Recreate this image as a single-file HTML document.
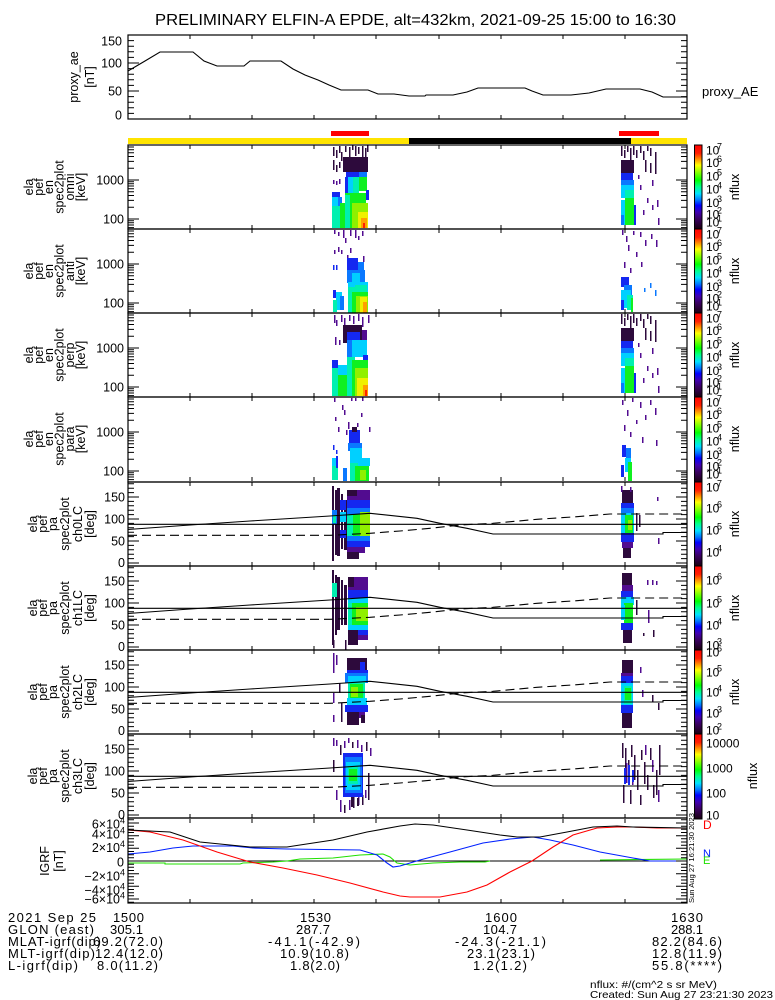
<!DOCTYPE html>
<html><head><meta charset="utf-8"><style>
html,body{margin:0;padding:0;background:#fff}
svg{display:block;font-family:"Liberation Sans",sans-serif}
.K{fill:#2d0a3c}.P{fill:#520c90}.B{fill:#1428f0}.L{fill:#0a78ff}.C{fill:#00d0ff}.T{fill:#00f0b0}.G{fill:#10f020}.H{fill:#90f000}.Y{fill:#f0f000}.O{fill:#ffa000}.R{fill:#ff2000}
.t{font-size:12.5px;fill:#000}
.cb{font-size:12px;fill:#000}
.sp{font-size:9px;fill:#000}
.bt{font-size:13px;fill:#000}
</style></head><body>
<svg width="775" height="1000" viewBox="0 0 775 1000" xmlns="http://www.w3.org/2000/svg">
<defs>
<linearGradient id="cb" x1="0" y1="0" x2="0" y2="1">
<stop offset="0" stop-color="#ff0000"/><stop offset="0.1" stop-color="#ff2000"/><stop offset="0.17" stop-color="#ff9000"/><stop offset="0.24" stop-color="#ffff00"/><stop offset="0.32" stop-color="#90ff00"/><stop offset="0.42" stop-color="#00ff00"/><stop offset="0.5" stop-color="#00ff90"/><stop offset="0.58" stop-color="#00e0ff"/><stop offset="0.66" stop-color="#0070ff"/><stop offset="0.72" stop-color="#0000ff"/><stop offset="0.8" stop-color="#4000b0"/><stop offset="0.88" stop-color="#3a0060"/><stop offset="1" stop-color="#1a0010"/>
</linearGradient>
<path id="xt" fill="none" stroke="#000" d="M190 0v4M252 0v4M314 0v4M376 0v4M439 0v4M501 0v4M563 0v4M625 0v4M190 84v-4M252 84v-4M314 84v-4M376 84v-4M439 84v-4M501 84v-4M563 84v-4M625 84v-4"/>
<path id="etl" fill="none" stroke="#000" d="M128 82.6h6M128 80h6M128 77.8h6M128 75.8h6M128 74h11M128 62.3h6M128 55.4h6M128 50.5h6M128 46.7h6M128 43.7h6M128 41h6M128 38.8h6M128 36.8h6M128 35h11M128 23.3h6M128 16.4h6M128 11.5h6M128 7.7h6M128 4.7h6M128 2h6"/>
<g id="et"><use href="#etl"/><use href="#etl" transform="translate(815,0) scale(-1,1)"/><use href="#xt"/></g>
<path id="ptl" fill="none" stroke="#000" d="M128 81h11M128 76.6h6M128 72.2h6M128 67.8h6M128 63.4h6M128 59h11M128 54.6h6M128 50.2h6M128 45.8h6M128 41.4h6M128 37h11M128 32.6h6M128 28.2h6M128 23.8h6M128 19.4h6M128 15h11M128 10.6h6M128 6.2h6M128 1.8h6"/>
<g id="pt"><use href="#ptl"/><use href="#ptl" transform="translate(815,0) scale(-1,1)"/><use href="#xt"/></g>
<path id="atl" fill="none" stroke="#000" d="M128 84h11M128 78.4h6M128 72.8h6M128 67.2h6M128 61.6h6M128 56h11M128 50.4h6M128 44.8h6M128 39.2h6M128 33.6h6M128 28h11M128 22.4h6M128 16.8h6M128 11.2h6M128 5.6h6M128 0h11"/>
<path id="btl" fill="none" stroke="#000" d="M128 819.8h6M128 823h11M128 826.2h6M128 829.3h6M128 832.5h6M128 835.7h11M128 838.8h6M128 842h6M128 845.2h6M128 848.3h11M128 851.5h6M128 854.7h6M128 857.8h6M128 861h11M128 864.2h6M128 867.3h6M128 870.5h6M128 873.7h11M128 876.8h6M128 880h6M128 883.2h6M128 886.3h11M128 889.5h6M128 892.7h6M128 895.8h6M128 899h11M128 902.2h6"/>
<g id="pl" fill="none" stroke="#000" stroke-width="1.1">
<line x1="128" y1="42.3" x2="687" y2="42.3"/>
<polyline points="128,47.5 183,43.5 250,39 330,34 370,31.3 417,36.3 440,41.3 467,46.3 493,52 663,52 663,50.5 687,50.5"/>
<polyline stroke-dasharray="9,5" points="128,53.3 330,53.3 370,51.3 400,49 430,46.3 460,43 493,41.3 537,37.3 577,34.7 610,32 687,32"/>
</g>
<g id="b1b">
<rect class="K" x="621" y="146" width="1.5" height="10"/><rect class="K" x="624" y="150" width="1.5" height="8"/><rect class="K" x="627" y="146" width="1.5" height="6"/><rect class="K" x="630" y="148" width="1.5" height="12"/><rect class="K" x="633" y="146" width="1.5" height="9"/><rect class="K" x="636" y="150" width="1.5" height="8"/><rect class="K" x="640" y="146" width="1.5" height="7"/><rect class="K" x="643" y="151" width="1.5" height="9"/><rect class="K" x="647" y="146" width="1.5" height="5"/><rect class="K" x="650" y="148" width="1.5" height="8"/><rect class="K" x="655" y="152" width="1.5" height="10"/><rect class="K" x="645" y="160" width="1.5" height="12"/><rect class="K" x="650" y="163" width="1.5" height="10"/><rect class="K" x="655" y="160" width="1.5" height="14"/>
<rect class="K" x="621" y="160" width="13" height="13"/>
<rect class="B" x="621" y="173" width="12" height="10"/><rect class="L" x="621" y="180" width="13" height="5"/>
<rect class="C" x="621" y="185" width="13" height="13"/><rect class="T" x="625" y="190" width="9" height="10"/>
<rect class="G" x="625" y="198" width="9" height="27"/><rect class="C" x="621" y="200" width="4" height="25"/><rect class="L" x="621" y="215" width="3" height="10"/>
<rect class="B" x="634" y="205" width="2" height="20"/>
<rect class="P" x="640" y="185" width="1.5" height="5"/><rect class="P" x="647" y="198" width="1.5" height="5"/><rect class="P" x="652" y="205" width="1.5" height="5"/><rect class="P" x="657" y="200" width="1.5" height="7"/><rect class="P" x="658" y="218" width="1.5" height="7"/><rect class="P" x="643" y="210" width="1.5" height="5"/><rect class="P" x="638" y="175" width="1.5" height="4"/><rect class="P" x="652" y="180" width="1.5" height="6"/>
</g>
</defs>
<rect width="775" height="1000" fill="#fff"/>

<!-- Title -->
<text x="155" y="25" font-size="16" textLength="521" lengthAdjust="spacingAndGlyphs">PRELIMINARY ELFIN-A EPDE, alt=432km, 2021-09-25 15:00 to 16:30</text>

<!-- proxy AE panel -->
<polyline fill="none" stroke="#000" stroke-width="1.1" points="128,71 145,61 160,52 193,52 204,61 217,66 244,66 250,61 281,61 293,69 305,75 318,80 329,85 341,90 368,90 378,94 394,94 409,96 425,96 426,95 453,95 467,92 478,88 525,88 532,91 543,95 571,95 589,93 606,89 640,89 652,92 663,97 687,97"/>
<use href="#atl" y="35"/><use href="#atl" transform="translate(815,35) scale(-1,1)"/><use href="#xt" y="35"/>
<rect x="128" y="35" width="559" height="84" fill="none" stroke="#000" stroke-width="1.2"/>
<g class="t" text-anchor="end"><text x="122" y="45.5">150</text><text x="122" y="67.5">100</text><text x="122" y="95.5">50</text><text x="122" y="119.5">0</text></g>
<g class="t" text-anchor="middle"><text transform="translate(78,77) rotate(-90)">proxy_ae</text><text transform="translate(94,77) rotate(-90)">[nT]</text></g>
<text x="702" y="96" font-size="13">proxy_AE</text>

<!-- bars -->
<rect x="331" y="131" width="38" height="5" fill="#ff0000"/>
<rect x="619" y="131" width="40" height="5" fill="#ff0000"/>
<rect x="128" y="138" width="559" height="6" fill="#ffe400"/>
<rect x="409" y="138" width="222" height="6" fill="#000"/>

<!-- Panel 1 omni -->
<g>
<rect class="K" x="333" y="147" width="1.5" height="9"/><rect class="K" x="336" y="150" width="1.5" height="8"/><rect class="K" x="339" y="146" width="1.5" height="7"/><rect class="K" x="341" y="152" width="1.5" height="9"/><rect class="K" x="345" y="146" width="1.5" height="6"/><rect class="K" x="349" y="147" width="1.5" height="10"/><rect class="K" x="352" y="145" width="1.5" height="5"/><rect class="K" x="355" y="146" width="1.5" height="10"/><rect class="K" x="358" y="147" width="1.5" height="7"/><rect class="K" x="362" y="146" width="1.5" height="12"/><rect class="K" x="365" y="148" width="1.5" height="10"/><rect class="K" x="367" y="145" width="1.5" height="7"/><rect class="K" x="333" y="160" width="1.5" height="10"/><rect class="K" x="336" y="165" width="1.5" height="7"/><rect class="K" x="339" y="162" width="1.5" height="6"/>
<rect class="K" x="343" y="157" width="25" height="15"/>
<rect class="P" x="333" y="180" width="1.5" height="4"/><rect class="P" x="336" y="181" width="1.5" height="4"/><rect class="P" x="339" y="179" width="1.5" height="5"/>
<rect class="B" x="346" y="172" width="13" height="6"/><rect class="L" x="359" y="172" width="8" height="6"/>
<rect class="B" x="345" y="177" width="3" height="16"/><rect class="C" x="348" y="177" width="5" height="16"/><rect class="T" x="353" y="177" width="6" height="16"/><rect class="G" x="359" y="177" width="8" height="14"/><rect class="B" x="366" y="190" width="3" height="10"/>
<rect class="B" x="332" y="192" width="8" height="5"/><rect class="C" x="332" y="197" width="6" height="9"/><rect class="L" x="338" y="197" width="4" height="9"/><rect class="T" x="332" y="206" width="8" height="22"/><rect class="G" x="340" y="203" width="5" height="25"/>
<rect class="G" x="345" y="193" width="21" height="35"/><rect class="T" x="345" y="195" width="5" height="33"/><rect class="H" x="352" y="203" width="16" height="25"/><rect class="Y" x="358" y="212" width="10" height="16"/><rect class="O" x="361" y="218" width="6" height="10"/><rect class="R" x="363" y="223" width="2" height="5"/>
<use href="#b1b"/>
</g>

<!-- Panel 2 anti -->
<g>
<rect class="P" x="334" y="230" width="1.5" height="4"/><rect class="P" x="338" y="232" width="1.5" height="4"/><rect class="P" x="343" y="230" width="1.5" height="8"/><rect class="P" x="350" y="230" width="1.5" height="6"/><rect class="P" x="355" y="230" width="1.5" height="8"/><rect class="P" x="358" y="236" width="1.5" height="4"/><rect class="P" x="362" y="231" width="1.5" height="5"/><rect class="P" x="345" y="238" width="1.5" height="5"/><rect class="P" x="338" y="247" width="1.5" height="5"/><rect class="P" x="341" y="250" width="1.5" height="4"/><rect class="P" x="334" y="250" width="1.5" height="4"/><rect class="P" x="350" y="248" width="1.5" height="5"/><rect class="P" x="347" y="255" width="1.5" height="5"/><rect class="P" x="363" y="256" width="1.5" height="6"/>
<rect class="B" x="347" y="258" width="11" height="12"/><rect class="L" x="358" y="262" width="6" height="8"/><rect class="B" x="333" y="265" width="1.5" height="5"/><rect class="B" x="336" y="265" width="1.5" height="5"/>
<rect class="L" x="347" y="270" width="18" height="13"/><rect class="C" x="352" y="273" width="8" height="10"/>
<rect class="C" x="348" y="282" width="20" height="10"/><rect class="T" x="355" y="285" width="12" height="8"/>
<rect class="B" x="333" y="290" width="3" height="8"/><rect class="C" x="336" y="292" width="6" height="18"/><rect class="T" x="333" y="300" width="4" height="12"/><rect class="L" x="340" y="296" width="4" height="14"/>
<rect class="T" x="348" y="287" width="8" height="26"/><rect class="G" x="352" y="292" width="16" height="21"/><rect class="H" x="356" y="296" width="12" height="17"/><rect class="Y" x="360" y="297" width="7" height="16"/><rect class="O" x="363" y="302" width="4" height="11"/>
<rect class="P" x="622" y="230" width="1.5" height="5"/><rect class="P" x="626" y="236" width="1.5" height="6"/><rect class="P" x="633" y="231" width="1.5" height="4"/><rect class="P" x="640" y="232" width="1.5" height="5"/><rect class="P" x="645" y="240" width="1.5" height="6"/><rect class="P" x="651" y="234" width="1.5" height="5"/><rect class="P" x="656" y="240" width="1.5" height="7"/><rect class="P" x="628" y="245" width="1.5" height="6"/><rect class="P" x="636" y="252" width="1.5" height="5"/><rect class="P" x="641" y="262" width="1.5" height="5"/><rect class="P" x="624" y="262" width="1.5" height="6"/><rect class="P" x="630" y="268" width="1.5" height="5"/>
<rect class="B" x="621" y="277" width="8" height="10"/><rect class="L" x="624" y="285" width="8" height="10"/><rect class="C" x="621" y="290" width="10" height="18"/><rect class="T" x="627" y="295" width="6" height="15"/><rect class="G" x="631" y="298" width="2" height="14"/><rect class="B" x="621" y="300" width="3" height="10"/>
<rect class="L" x="650" y="283" width="1.5" height="5"/><rect class="L" x="655" y="290" width="1.5" height="6"/><rect class="L" x="644" y="288" width="1.5" height="4"/>
</g>

<!-- Panel 3 perp -->
<g>
<rect class="P" x="334" y="315" width="1.5" height="8"/><rect class="P" x="336" y="320" width="1.5" height="6"/><rect class="P" x="341" y="315" width="1.5" height="7"/><rect class="P" x="344" y="318" width="1.5" height="10"/><rect class="P" x="349" y="315" width="1.5" height="6"/><rect class="P" x="353" y="316" width="1.5" height="8"/><rect class="P" x="358" y="314" width="1.5" height="7"/><rect class="P" x="362" y="317" width="1.5" height="10"/><rect class="P" x="368" y="315" width="1.5" height="8"/><rect class="P" x="339" y="340" width="1.5" height="5"/><rect class="P" x="335" y="337" width="1.5" height="8"/>
<rect class="K" x="343" y="325" width="19" height="18"/><rect class="P" x="362" y="330" width="5" height="12"/>
<rect class="B" x="347" y="332" width="13" height="8"/>
<rect class="L" x="347" y="340" width="5" height="17"/><rect class="C" x="352" y="340" width="15" height="17"/><rect class="B" x="363" y="355" width="5" height="10"/>
<rect class="B" x="332" y="360" width="6" height="8"/><rect class="C" x="338" y="365" width="9" height="10"/><rect class="T" x="332" y="368" width="6" height="28"/><rect class="G" x="338" y="375" width="9" height="21"/>
<rect class="T" x="347" y="357" width="8" height="39"/><rect class="G" x="352" y="360" width="16" height="36"/><rect class="H" x="355" y="368" width="13" height="28"/><rect class="Y" x="357" y="378" width="11" height="18"/><rect class="O" x="363" y="385" width="5" height="11"/><rect class="R" x="365" y="390" width="2" height="6"/>
<use href="#b1b" y="168"/>
</g>

<!-- Panel 4 para -->
<g>
<rect class="P" x="334" y="398" width="1.5" height="4"/><rect class="P" x="342" y="405" width="1.5" height="5"/><rect class="P" x="344" y="410" width="1.5" height="5"/><rect class="P" x="335" y="417" width="1.5" height="4"/><rect class="P" x="361" y="413" width="1.5" height="4"/><rect class="P" x="348" y="422" width="1.5" height="7"/><rect class="P" x="357" y="423" width="1.5" height="4"/><rect class="P" x="351" y="398" width="1.5" height="3"/><rect class="P" x="355" y="398" width="1.5" height="3"/><rect class="P" x="362" y="397" width="1.5" height="4"/><rect class="P" x="338" y="427" width="1.5" height="5"/><rect class="P" x="369" y="427" width="1.5" height="5"/><rect class="P" x="346" y="430" width="1.5" height="5"/>
<rect class="B" x="349" y="430" width="11" height="13"/><rect class="K" x="352" y="427" width="5" height="5"/>
<rect class="L" x="348" y="443" width="14" height="8"/><rect class="C" x="350" y="448" width="12" height="10"/>
<rect class="B" x="333" y="445" width="1.5" height="5"/><rect class="B" x="336" y="450" width="1.5" height="4"/>
<rect class="C" x="332" y="458" width="4" height="8"/><rect class="T" x="332" y="466" width="6" height="14"/><rect class="B" x="336" y="456" width="2" height="12"/>
<rect class="C" x="350" y="458" width="20" height="8"/><rect class="T" x="350" y="463" width="8" height="18"/><rect class="G" x="355" y="466" width="14" height="15"/><rect class="H" x="360" y="470" width="6" height="10"/><rect class="L" x="343" y="468" width="4" height="13"/>
<rect class="P" x="622" y="400" width="1.5" height="5"/><rect class="P" x="627" y="410" width="1.5" height="6"/><rect class="P" x="632" y="398" width="1.5" height="4"/><rect class="P" x="640" y="402" width="1.5" height="6"/><rect class="P" x="645" y="415" width="1.5" height="5"/><rect class="P" x="650" y="400" width="1.5" height="5"/><rect class="P" x="655" y="408" width="1.5" height="7"/><rect class="P" x="624" y="425" width="1.5" height="6"/><rect class="P" x="630" y="432" width="1.5" height="5"/><rect class="P" x="636" y="420" width="1.5" height="4"/><rect class="P" x="642" y="437" width="1.5" height="6"/><rect class="P" x="656" y="440" width="1.5" height="6"/>
<rect class="B" x="622" y="445" width="4" height="12"/><rect class="L" x="626" y="448" width="5" height="10"/><rect class="C" x="625" y="458" width="6" height="14"/><rect class="G" x="628" y="462" width="4" height="19"/><rect class="B" x="621" y="465" width="3" height="12"/>
</g>

<!-- Panel 5 ch0LC -->
<g>
<rect class="K" x="332" y="486" width="2" height="75"/><rect class="K" x="335" y="490" width="2" height="65"/><rect class="L" x="332" y="510" width="5" height="14"/><rect class="T" x="333" y="515" width="3" height="8"/>
<rect class="K" x="337" y="488" width="3" height="68"/><rect class="K" x="341" y="494" width="2" height="55"/><rect class="K" x="344" y="500" width="3" height="50"/><rect class="B" x="340" y="500" width="6" height="10"/><rect class="C" x="340" y="512" width="6" height="10"/><rect class="B" x="340" y="530" width="6" height="8"/>
<rect class="P" x="347" y="490" width="23" height="10"/><rect class="K" x="347" y="490" width="10" height="6"/>
<rect class="B" x="347" y="500" width="23" height="8"/><rect class="L" x="347" y="508" width="23" height="6"/>
<rect class="G" x="347" y="514" width="23" height="22"/><rect class="T" x="347" y="514" width="6" height="22"/><rect class="H" x="360" y="512" width="10" height="26"/>
<rect class="L" x="347" y="536" width="23" height="5"/><rect class="B" x="347" y="541" width="23" height="6"/><rect class="P" x="347" y="547" width="18" height="6"/><rect class="K" x="347" y="552" width="12" height="7"/>
<rect class="K" x="622" y="490" width="11" height="13"/><rect class="P" x="621" y="486" width="1.5" height="6"/><rect class="P" x="630" y="487" width="1.5" height="5"/>
<rect class="B" x="621" y="503" width="13" height="7"/><rect class="L" x="621" y="508" width="13" height="6"/>
<rect class="C" x="621" y="513" width="13" height="20"/><rect class="G" x="625" y="515" width="8" height="18"/><rect class="H" x="628" y="520" width="4" height="10"/>
<rect class="B" x="621" y="533" width="13" height="9"/><rect class="P" x="622" y="542" width="11" height="6"/><rect class="K" x="623" y="548" width="8" height="10"/>
<rect class="K" x="636" y="513" width="1.5" height="18"/><rect class="K" x="639" y="515" width="1.5" height="12"/><rect class="P" x="657" y="497" width="1.5" height="4"/><rect class="P" x="658" y="538" width="1.5" height="6"/>
</g>

<!-- Panel 6 ch1LC -->
<g>
<rect class="K" x="332" y="570" width="2" height="75"/><rect class="K" x="335" y="575" width="2" height="60"/><rect class="T" x="332" y="583" width="5" height="14"/>
<rect class="K" x="337" y="577" width="3" height="53"/><rect class="K" x="341" y="580" width="2" height="45"/><rect class="K" x="344" y="585" width="3" height="40"/>
<rect class="P" x="348" y="577" width="20" height="13"/><rect class="K" x="348" y="577" width="6" height="10"/>
<rect class="B" x="348" y="590" width="20" height="8"/><rect class="C" x="348" y="598" width="20" height="5"/>
<rect class="G" x="350" y="603" width="18" height="22"/><rect class="H" x="356" y="607" width="12" height="14"/><rect class="T" x="348" y="603" width="4" height="22"/>
<rect class="C" x="348" y="625" width="20" height="5"/><rect class="B" x="348" y="630" width="20" height="5"/><rect class="P" x="348" y="635" width="20" height="5"/><rect class="K" x="348" y="630" width="10" height="15"/>
<rect class="K" x="345" y="640" width="1.5" height="10"/><rect class="K" x="333" y="640" width="1.5" height="8"/>
<rect class="K" x="622" y="573" width="10" height="12"/><rect class="P" x="622" y="585" width="11" height="6"/><rect class="B" x="621" y="591" width="12" height="6"/><rect class="C" x="621" y="597" width="13" height="8"/><rect class="G" x="624" y="603" width="9" height="20"/><rect class="C" x="621" y="605" width="4" height="15"/><rect class="B" x="621" y="623" width="12" height="7"/><rect class="K" x="623" y="630" width="9" height="13"/>
<rect class="P" x="647" y="580" width="1.5" height="5"/><rect class="P" x="652" y="580" width="1.5" height="5"/><rect class="P" x="656" y="581" width="1.5" height="4"/><rect class="P" x="648" y="610" width="1.5" height="13"/><rect class="K" x="643" y="633" width="1.5" height="3"/><rect class="K" x="653" y="630" width="1.5" height="7"/><rect class="K" x="636" y="600" width="1.5" height="15"/>
</g>

<!-- Panel 7 ch2LC -->
<g>
<rect class="P" x="333" y="653" width="1.5" height="20"/><rect class="P" x="336" y="655" width="1.5" height="10"/><rect class="P" x="333" y="693" width="1.5" height="10"/><rect class="P" x="333" y="715" width="1.5" height="7"/><rect class="K" x="339" y="683" width="1.5" height="10"/><rect class="K" x="341" y="703" width="1.5" height="19"/>
<rect class="K" x="347" y="658" width="20" height="14"/><rect class="B" x="360" y="662" width="5" height="8"/>
<rect class="B" x="347" y="670" width="21" height="5"/>
<rect class="L" x="345" y="673" width="23" height="10"/><rect class="C" x="348" y="676" width="18" height="7"/>
<rect class="T" x="348" y="682" width="17" height="18"/><rect class="G" x="350" y="684" width="13" height="15"/><rect class="H" x="351" y="687" width="7" height="10"/>
<rect class="C" x="347" y="698" width="20" height="9"/><rect class="B" x="345" y="705" width="23" height="7"/>
<rect class="P" x="347" y="712" width="18" height="6"/><rect class="K" x="347" y="712" width="12" height="13"/><rect class="K" x="361" y="715" width="4" height="8"/>
<rect class="K" x="622" y="660" width="11" height="13"/><rect class="P" x="621" y="673" width="12" height="4"/><rect class="B" x="621" y="676" width="12" height="7"/>
<rect class="C" x="621" y="683" width="12" height="24"/><rect class="T" x="624" y="686" width="8" height="18"/><rect class="G" x="625" y="688" width="6" height="12"/>
<rect class="B" x="621" y="705" width="12" height="8"/><rect class="K" x="622" y="713" width="10" height="15"/>
<rect class="P" x="640" y="667" width="1.5" height="6"/><rect class="P" x="642" y="690" width="1.5" height="7"/><rect class="K" x="652" y="695" width="1.5" height="7"/><rect class="K" x="658" y="703" width="1.5" height="7"/>
</g>

<!-- Panel 8 ch3LC -->
<g>
<rect class="P" x="333" y="738" width="1.5" height="8"/><rect class="P" x="336" y="740" width="1.5" height="6"/><rect class="K" x="340" y="745" width="1.5" height="10"/><rect class="P" x="344" y="741" width="1.5" height="7"/><rect class="P" x="348" y="738" width="1.5" height="5"/><rect class="K" x="352" y="742" width="1.5" height="6"/><rect class="P" x="357" y="740" width="1.5" height="8"/><rect class="P" x="361" y="745" width="1.5" height="7"/><rect class="K" x="366" y="742" width="1.5" height="9"/><rect class="P" x="370" y="748" width="1.5" height="8"/><rect class="K" x="333" y="760" width="1.5" height="12"/><rect class="P" x="336" y="790" width="1.5" height="10"/><rect class="P" x="340" y="800" width="1.5" height="12"/><rect class="K" x="344" y="805" width="1.5" height="8"/><rect class="P" x="349" y="800" width="1.5" height="10"/><rect class="K" x="353" y="796" width="1.5" height="12"/><rect class="P" x="358" y="797" width="1.5" height="8"/><rect class="K" x="362" y="795" width="1.5" height="10"/><rect class="K" x="368" y="773" width="1.5" height="27"/><rect class="P" x="365" y="790" width="1.5" height="8"/>
<rect class="B" x="343" y="753" width="20" height="44"/><rect class="L" x="345" y="757" width="17" height="36"/><rect class="C" x="346" y="762" width="14" height="28"/><rect class="T" x="348" y="766" width="10" height="18"/><rect class="G" x="349" y="769" width="8" height="12"/>
<rect class="K" x="351" y="797" width="2" height="10"/><rect class="K" x="357" y="798" width="2" height="8"/>
<rect class="K" x="622" y="743" width="1.5" height="15"/><rect class="K" x="625" y="748" width="1.5" height="20"/><rect class="K" x="628" y="760" width="1.5" height="15"/><rect class="K" x="631" y="745" width="1.5" height="12"/><rect class="K" x="634" y="755" width="1.5" height="25"/><rect class="K" x="637" y="770" width="1.5" height="20"/><rect class="K" x="641" y="750" width="1.5" height="10"/><rect class="K" x="644" y="762" width="1.5" height="22"/><rect class="K" x="647" y="775" width="1.5" height="15"/><rect class="K" x="650" y="748" width="1.5" height="12"/><rect class="K" x="653" y="785" width="1.5" height="13"/><rect class="K" x="656" y="770" width="1.5" height="25"/><rect class="K" x="659" y="745" width="1.5" height="30"/><rect class="K" x="623" y="785" width="1.5" height="18"/><rect class="K" x="630" y="790" width="1.5" height="14"/><rect class="K" x="640" y="795" width="1.5" height="10"/>
<rect class="P" x="626" y="763" width="1.5" height="20"/><rect class="P" x="632" y="770" width="1.5" height="15"/><rect class="P" x="645" y="745" width="1.5" height="10"/><rect class="P" x="652" y="760" width="1.5" height="12"/><rect class="P" x="658" y="790" width="1.5" height="12"/>
<rect class="B" x="624" y="768" width="2" height="16"/><rect class="B" x="628" y="765" width="2" height="20"/><rect class="B" x="632" y="770" width="2" height="12"/>
</g>

<!-- PA lines -->
<use href="#pl" y="482"/><use href="#pl" y="566"/><use href="#pl" y="650"/><use href="#pl" y="734"/>

<!-- ticks and frames for spectrogram panels -->
<use href="#et" y="145"/><use href="#et" y="229"/><use href="#et" y="313"/><use href="#et" y="397"/>
<use href="#pt" y="482"/><use href="#pt" y="566"/><use href="#pt" y="650"/><use href="#pt" y="734"/>
<g fill="none" stroke="#000" stroke-width="1.2">
<rect x="128" y="145" width="559" height="84"/><rect x="128" y="229" width="559" height="84"/><rect x="128" y="313" width="559" height="84"/><rect x="128" y="397" width="559" height="85"/>
<rect x="128" y="482" width="559" height="84"/><rect x="128" y="566" width="559" height="84"/><rect x="128" y="650" width="559" height="84"/><rect x="128" y="734" width="559" height="84"/>
</g>

<!-- colorbars -->
<g fill="url(#cb)" stroke="#000" stroke-width="1">
<rect x="694.5" y="145" width="7.5" height="84"/><rect x="694.5" y="229" width="7.5" height="84"/><rect x="694.5" y="313" width="7.5" height="84"/><rect x="694.5" y="397" width="7.5" height="85"/>
<rect x="694.5" y="482" width="7.5" height="84"/><rect x="694.5" y="566" width="7.5" height="84"/><rect x="694.5" y="650" width="7.5" height="84"/><rect x="694.5" y="734" width="7.5" height="85"/>
</g>

<!-- energy tick labels -->
<g class="t" text-anchor="end">
<text x="124" y="184.5">1000</text><text x="124" y="223.5">100</text>
<text x="124" y="268.5">1000</text><text x="124" y="307.5">100</text>
<text x="124" y="352.5">1000</text><text x="124" y="391.5">100</text>
<text x="124" y="436.5">1000</text><text x="124" y="475.5">100</text>
<text x="125" y="501.5">150</text><text x="125" y="523.5">100</text><text x="125" y="545.5">50</text><text x="125" y="567">0</text>
<text x="125" y="585.5">150</text><text x="125" y="607.5">100</text><text x="125" y="629.5">50</text><text x="125" y="651">0</text>
<text x="125" y="669.5">150</text><text x="125" y="691.5">100</text><text x="125" y="713.5">50</text><text x="125" y="735">0</text>
<text x="125" y="753.5">150</text><text x="125" y="775.5">100</text><text x="125" y="797.5">50</text><text x="125" y="819">0</text>
</g>

<!-- panel titles -->
<g class="t" text-anchor="middle">
<text transform="translate(33,187) rotate(-90)">ela</text><text transform="translate(43,187) rotate(-90)">pef</text><text transform="translate(53,187) rotate(-90)">en</text><text transform="translate(63.5,187) rotate(-90)">spec2plot</text><text transform="translate(74,187) rotate(-90)">omni</text><text transform="translate(85,187) rotate(-90)">[keV]</text>
<text transform="translate(33,271) rotate(-90)">ela</text><text transform="translate(43,271) rotate(-90)">pef</text><text transform="translate(53,271) rotate(-90)">en</text><text transform="translate(63.5,271) rotate(-90)">spec2plot</text><text transform="translate(74,271) rotate(-90)">anti</text><text transform="translate(85,271) rotate(-90)">[keV]</text>
<text transform="translate(33,355) rotate(-90)">ela</text><text transform="translate(43,355) rotate(-90)">pef</text><text transform="translate(53,355) rotate(-90)">en</text><text transform="translate(63.5,355) rotate(-90)">spec2plot</text><text transform="translate(74,355) rotate(-90)">perp</text><text transform="translate(85,355) rotate(-90)">[keV]</text>
<text transform="translate(33,439) rotate(-90)">ela</text><text transform="translate(43,439) rotate(-90)">pef</text><text transform="translate(53,439) rotate(-90)">en</text><text transform="translate(63.5,439) rotate(-90)">spec2plot</text><text transform="translate(74,439) rotate(-90)">para</text><text transform="translate(85,439) rotate(-90)">[keV]</text>
<text transform="translate(37,524) rotate(-90)">ela</text><text transform="translate(47,524) rotate(-90)">pef</text><text transform="translate(57,524) rotate(-90)">pa</text><text transform="translate(69,524) rotate(-90)">spec2plot</text><text transform="translate(82,524) rotate(-90)">ch0LC</text><text transform="translate(94,524) rotate(-90)">[deg]</text>
<text transform="translate(37,608) rotate(-90)">ela</text><text transform="translate(47,608) rotate(-90)">pef</text><text transform="translate(57,608) rotate(-90)">pa</text><text transform="translate(69,608) rotate(-90)">spec2plot</text><text transform="translate(82,608) rotate(-90)">ch1LC</text><text transform="translate(94,608) rotate(-90)">[deg]</text>
<text transform="translate(37,692) rotate(-90)">ela</text><text transform="translate(47,692) rotate(-90)">pef</text><text transform="translate(57,692) rotate(-90)">pa</text><text transform="translate(69,692) rotate(-90)">spec2plot</text><text transform="translate(82,692) rotate(-90)">ch2LC</text><text transform="translate(94,692) rotate(-90)">[deg]</text>
<text transform="translate(37,776) rotate(-90)">ela</text><text transform="translate(47,776) rotate(-90)">pef</text><text transform="translate(57,776) rotate(-90)">pa</text><text transform="translate(69,776) rotate(-90)">spec2plot</text><text transform="translate(82,776) rotate(-90)">ch3LC</text><text transform="translate(94,776) rotate(-90)">[deg]</text>
<text transform="translate(49,861) rotate(-90)">IGRF</text><text transform="translate(63,861) rotate(-90)">[nT]</text>
</g>

<!-- nflux labels -->
<g class="t" text-anchor="middle">
<text transform="translate(739,187) rotate(-90)">nflux</text><text transform="translate(739,271) rotate(-90)">nflux</text><text transform="translate(739,355) rotate(-90)">nflux</text><text transform="translate(739,439) rotate(-90)">nflux</text>
<text transform="translate(739,524) rotate(-90)">nflux</text><text transform="translate(739,608) rotate(-90)">nflux</text><text transform="translate(739,692) rotate(-90)">nflux</text><text transform="translate(757,776) rotate(-90)">nflux</text>
</g>

<!-- colorbar labels -->
<g>
<text class="cb" x="706" y="154.5">10</text><text class="sp" x="717" y="149.5">7</text>
<text class="cb" x="706" y="167">10</text><text class="sp" x="717" y="162">6</text>
<text class="cb" x="706" y="180.5">10</text><text class="sp" x="717" y="175.5">5</text>
<text class="cb" x="706" y="193.5">10</text><text class="sp" x="717" y="188.5">4</text>
<text class="cb" x="706" y="207">10</text><text class="sp" x="717" y="202">3</text>
<text class="cb" x="706" y="218.5">10</text><text class="sp" x="717" y="213.5">2</text>
<text class="cb" x="706" y="226.5">10</text><text class="sp" x="717" y="221.5">1</text>

<text class="cb" x="706" y="238.5">10</text><text class="sp" x="717" y="233.5">7</text>
<text class="cb" x="706" y="251">10</text><text class="sp" x="717" y="246">6</text>
<text class="cb" x="706" y="264.5">10</text><text class="sp" x="717" y="259.5">5</text>
<text class="cb" x="706" y="277.5">10</text><text class="sp" x="717" y="272.5">4</text>
<text class="cb" x="706" y="291">10</text><text class="sp" x="717" y="286">3</text>
<text class="cb" x="706" y="302.5">10</text><text class="sp" x="717" y="297.5">2</text>
<text class="cb" x="706" y="310.5">10</text><text class="sp" x="717" y="305.5">1</text>

<text class="cb" x="706" y="322.5">10</text><text class="sp" x="717" y="317.5">7</text>
<text class="cb" x="706" y="335">10</text><text class="sp" x="717" y="330">6</text>
<text class="cb" x="706" y="348.5">10</text><text class="sp" x="717" y="343.5">5</text>
<text class="cb" x="706" y="361.5">10</text><text class="sp" x="717" y="356.5">4</text>
<text class="cb" x="706" y="375">10</text><text class="sp" x="717" y="370">3</text>
<text class="cb" x="706" y="386.5">10</text><text class="sp" x="717" y="381.5">2</text>
<text class="cb" x="706" y="394.5">10</text><text class="sp" x="717" y="389.5">1</text>

<text class="cb" x="706" y="406.5">10</text><text class="sp" x="717" y="401.5">7</text>
<text class="cb" x="706" y="419">10</text><text class="sp" x="717" y="414">6</text>
<text class="cb" x="706" y="432.5">10</text><text class="sp" x="717" y="427.5">5</text>
<text class="cb" x="706" y="445.5">10</text><text class="sp" x="717" y="440.5">4</text>
<text class="cb" x="706" y="459">10</text><text class="sp" x="717" y="454">3</text>
<text class="cb" x="706" y="470.5">10</text><text class="sp" x="717" y="465.5">2</text>
<text class="cb" x="706" y="478.5">10</text><text class="sp" x="717" y="473.5">1</text>

<text class="cb" x="706" y="491.5">10</text><text class="sp" x="717" y="486.5">7</text>
<text class="cb" x="706" y="512.5">10</text><text class="sp" x="717" y="507.5">6</text>
<text class="cb" x="706" y="534.5">10</text><text class="sp" x="717" y="529.5">5</text>
<text class="cb" x="706" y="556.5">10</text><text class="sp" x="717" y="551.5">4</text>

<text class="cb" x="706" y="584.5">10</text><text class="sp" x="717" y="579.5">6</text>
<text class="cb" x="706" y="607.5">10</text><text class="sp" x="717" y="602.5">5</text>
<text class="cb" x="706" y="629.5">10</text><text class="sp" x="717" y="624.5">4</text>
<text class="cb" x="706" y="649.5">10</text><text class="sp" x="717" y="644.5">3</text>

<text class="cb" x="706" y="656.5">10</text><text class="sp" x="717" y="651.5">6</text>
<text class="cb" x="706" y="676.5">10</text><text class="sp" x="717" y="671.5">5</text>
<text class="cb" x="706" y="696.5">10</text><text class="sp" x="717" y="691.5">4</text>
<text class="cb" x="706" y="717.5">10</text><text class="sp" x="717" y="712.5">3</text>
<text class="cb" x="706" y="734.5">10</text><text class="sp" x="717" y="729.5">2</text>

<text class="cb" x="706" y="747.5">10000</text>
<text class="cb" x="706" y="772.5">1000</text>
<text class="cb" x="706" y="797.5">100</text>
<text class="cb" x="706" y="819.5">10</text>
</g>

<!-- IGRF panel -->
<line x1="128" y1="861" x2="687" y2="861" stroke="#000" stroke-width="1.1"/>
<g fill="none" stroke-width="1.1">
<polyline stroke="#20e000" points="128,863 165,863 165,864 240,864 243,863 273,862 287,861 300,859 333,858 360,855 383,854 390,857 397,863 410,865 433,863 460,862 485,862 490,861"/>
<polyline stroke="#20e000" points="600,860 687,859"/>
<polyline stroke="#0020ff" points="128,854 150,852 173,848 193,846 233,846 253,848 287,849 360,850 377,855 387,863 393,867 400,866 420,860 450,852 483,843 510,839 533,837 550,840 573,845 600,852 633,858 650,861 687,861"/>
<polyline stroke="#ff0000" points="128,830 150,832 183,840 217,852 250,862 283,868 317,875 350,883 383,892 400,896 410,897 440,897 467,892 487,885 510,872 532,861 553,847 573,835 597,828 617,827 633,827 657,828 687,828"/>
<polyline stroke="#000" points="128,830 170,832 200,842 250,847 287,847 300,845 333,840 367,832 400,826 415,824 433,825 467,830 500,835 517,837 540,837 567,832 593,827 617,826 633,827 687,828"/>
</g>
<use href="#btl"/><use href="#btl" transform="translate(815,0) scale(-1,1)"/><use href="#xt" y="819"/>
<rect x="128" y="818" width="559" height="85" fill="none" stroke="#000" stroke-width="1.2"/>
<g class="t" text-anchor="end">
<text x="125" y="828.5">6×10<tspan font-size="9" dy="-5">4</tspan></text>
<text x="125" y="838.5">4×10<tspan font-size="9" dy="-5">4</tspan></text>
<text x="125" y="852">2×10<tspan font-size="9" dy="-5">4</tspan></text>
<text x="124" y="866.5">0</text>
<text x="125" y="880.5">−2×10<tspan font-size="9" dy="-5">4</tspan></text>
<text x="125" y="894.5">−4×10<tspan font-size="9" dy="-5">4</tspan></text>
<text x="125" y="903.5">−6×10<tspan font-size="9" dy="-5">4</tspan></text>
</g>
<text x="703" y="829" font-size="12" fill="#ff0000">D</text>
<text x="703" y="857" font-size="11" fill="#0020ff">N</text>
<text x="703" y="864" font-size="11" fill="#20e000">E</text>
<text transform="translate(694,903) rotate(-90)" font-size="7" textLength="90" lengthAdjust="spacingAndGlyphs">Sun Aug 27 16:21:30 2023</text>

<!-- bottom annotations -->
<g class="bt" lengthAdjust="spacingAndGlyphs">
<text x="8" y="922" textLength="88">2021 Sep 25</text>
<text x="113" y="922" textLength="31">1500</text>
<text x="300" y="922" textLength="31">1530</text>
<text x="485" y="922" textLength="32">1600</text>
<text x="671" y="922" textLength="32">1630</text>

<text x="8" y="934" textLength="86">GLON (east)</text>
<text x="110" y="934" textLength="33">305.1</text>
<text x="296" y="934" textLength="34">287.7</text>
<text x="483" y="934" textLength="34">104.7</text>
<text x="671" y="934" textLength="32">288.1</text>

<text x="8" y="946" textLength="93">MLAT-igrf(dip)</text>
<text x="93" y="946" textLength="70">69.2(72.0)</text>
<text x="268" y="946" textLength="92">-41.1(-42.9)</text>
<text x="455" y="946" textLength="91">-24.3(-21.1)</text>
<text x="652" y="946" textLength="70">82.2(84.6)</text>

<text x="8" y="958" textLength="87">MLT-igrf(dip)</text>
<text x="95" y="958" textLength="68">12.4(12.0)</text>
<text x="280" y="958" textLength="69">10.9(10.8)</text>
<text x="467" y="958" textLength="68">23.1(23.1)</text>
<text x="652" y="958" textLength="70">12.8(11.9)</text>

<text x="8" y="970" textLength="70">L-igrf(dip)</text>
<text x="97" y="970" textLength="61">8.0(11.2)</text>
<text x="290" y="970" textLength="50">1.8(2.0)</text>
<text x="473" y="970" textLength="54">1.2(1.2)</text>
<text x="652" y="970" textLength="70">55.8(****)</text>
</g>
<text x="590" y="988" font-size="10.5" textLength="127" lengthAdjust="spacingAndGlyphs">nflux: #/(cm^2 s sr MeV)</text>
<text x="590" y="998" font-size="10.5" textLength="183" lengthAdjust="spacingAndGlyphs">Created: Sun Aug 27 23:21:30 2023</text>
</svg>
</body></html>
